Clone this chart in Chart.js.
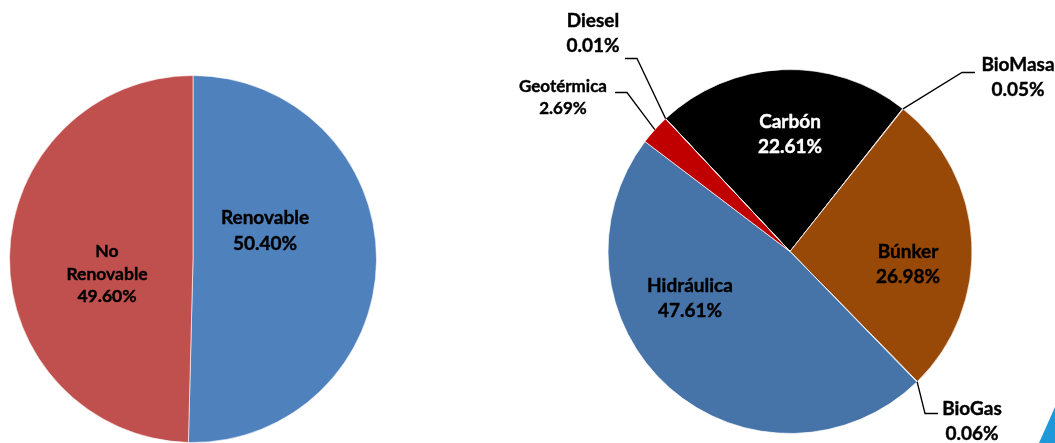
<!DOCTYPE html>
<html>
<head>
<meta charset="utf-8">
<script src="https://cdn.jsdelivr.net/npm/chart.js@4"></script>
<style>
  html, body { margin:0; padding:0; background:#fff; }
  body { width:1055px; height:443px; position:relative; overflow:hidden; }
  #c1 { position:absolute; left:0; top:0; }
  #c2 { position:absolute; left:500px; top:0; }
</style>
</head>
<body>
<canvas id="c1" width="400" height="443"></canvas>
<canvas id="c2" width="555" height="443"></canvas>
<script>
// ---- Data ----
const leftLabels = ["Renovable", "No Renovable"];
const leftValues = [50.40, 49.60];
const leftColors = ["#4F81BD", "#C0504D"];

const rightLabels = ["Carbón", "BioMasa", "Búnker", "BioGas", "Hidráulica", "Geotérmica", "Diesel"];
const rightValues = [22.61, 0.05, 26.98, 0.06, 47.61, 2.69, 0.01];
const rightColors = ["#000000", "#7F6A8A", "#984807", "#6E8DB0", "#4674A8", "#C00000", "#8A3A3A"];

const FONT = "Lato, 'Open Sans', sans-serif";

// label layout (styles/positions of texts, relative to pie centre)
const leftLabelLayout = [
  { lines: ["Renovable", "50.40%"], dx: 72, dy: -28, size: 19, color: "#000" },
  { lines: ["No", "Renovable", "49.60%"], dx: -86, dy: 15, size: 17.5, color: "#000", lh: 1.27 }
];
const rightLabelLayout = {
  "Carbón":     { lines: ["Carbón", "22.61%"], dx: 0, dy: -117, size: 19, color: "#fff" },
  "Búnker":     { lines: ["Búnker", "26.98%"], dx: 118, dy: 13, size: 19, color: "#000" },
  "Hidráulica": { lines: ["Hidráulica", "47.61%"], dx: -100, dy: 47, size: 19, color: "#000" },
  "Geotérmica": { lines: ["Geotérmica", "2.69%"], dx: -227, dy: -154, size: 17, color: "#000", lh: 1.25, ext: true, elbow: [-163, -159], elbowEnd: [-175, -159] },
  "Diesel":     { lines: ["Diesel", "0.01%"], dx: -197, dy: -218, size: 19, color: "#000", ext: true, elbow: [-153, -193], elbowEnd: [-165, -193] },
  "BioMasa":    { lines: ["BioMasa", "0.05%"], dx: 228, dy: -174, size: 19, color: "#000", ext: true, elbow: [172, -179], elbowEnd: [185, -179] },
  "BioGas":     { lines: ["BioGas", "0.06%"], dx: 182, dy: 170, size: 19, color: "#000", ext: true, elbow: [135, 162], elbowEnd: [148, 162] }
};

function drawBlock(ctx, x, y, lines, size, color, lhf) {
  ctx.save();
  ctx.font = "bold " + size + "px " + FONT;
  ctx.fillStyle = color;
  ctx.strokeStyle = color;
  ctx.lineWidth = 0.4;
  ctx.textAlign = "center";
  ctx.textBaseline = "middle";
  const lh = size * (lhf || 1.33);
  const top = y - (lines.length - 1) * lh / 2;
  lines.forEach((t, i) => { ctx.fillText(t, x, top + i * lh); ctx.strokeText(t, x, top + i * lh); });
  ctx.restore();
}

const leftLabelPlugin = {
  id: "leftLabels",
  afterDatasetsDraw(chart) {
    const ctx = chart.ctx;
    const arc = chart.getDatasetMeta(0).data[0];
    leftLabelLayout.forEach(l => drawBlock(ctx, arc.x + l.dx, arc.y + l.dy, l.lines, l.size, l.color, l.lh));
  }
};

const rightLabelPlugin = {
  id: "rightLabels",
  afterDatasetsDraw(chart) {
    const ctx = chart.ctx;
    const meta = chart.getDatasetMeta(0);
    meta.data.forEach((arc, i) => {
      const l = rightLabelLayout[rightLabels[i]];
      if (!l) return;
      if (l.ext) {
        const mid = (arc.startAngle + arc.endAngle) / 2;
        const r = arc.outerRadius;
        const sx = arc.x + Math.cos(mid) * r;
        const sy = arc.y + Math.sin(mid) * r;
        ctx.save();
        ctx.strokeStyle = "#000";
        ctx.lineWidth = 1.3;
        ctx.beginPath();
        ctx.moveTo(sx, sy);
        ctx.lineTo(arc.x + l.elbow[0], arc.y + l.elbow[1]);
        ctx.lineTo(arc.x + l.elbowEnd[0], arc.y + l.elbowEnd[1]);
        ctx.stroke();
        ctx.restore();
      }
      drawBlock(ctx, arc.x + l.dx, arc.y + l.dy, l.lines, l.size, l.color, l.lh);
    });
    // decorative corner triangle
    ctx.save();
    ctx.fillStyle = "#1E98D8";
    ctx.beginPath();
    ctx.moveTo(539, 443);
    ctx.lineTo(555, 407);
    ctx.lineTo(555, 443);
    ctx.closePath();
    ctx.fill();
    ctx.restore();
  }
};

new Chart(document.getElementById("c1"), {
  type: "pie",
  data: { labels: leftLabels, datasets: [{ data: leftValues, backgroundColor: leftColors, borderColor: "rgba(255,255,255,0.6)", borderWidth: 1 }] },
  options: {
    responsive: false, animation: false, rotation: 0,
    layout: { padding: { left: 8, right: 22, top: 75, bottom: 0 } },
    plugins: { legend: { display: false }, tooltip: { enabled: false } }
  },
  plugins: [leftLabelPlugin]
});

new Chart(document.getElementById("c2"), {
  type: "pie",
  data: { labels: rightLabels, datasets: [{ data: rightValues, backgroundColor: rightColors, borderColor: "rgba(255,255,255,0.7)", borderWidth: 1 }] },
  options: {
    responsive: false, animation: false, rotation: -43.1,
    layout: { padding: { left: 107, right: 82, top: 69, bottom: 9 } },
    plugins: { legend: { display: false }, tooltip: { enabled: false } }
  },
  plugins: [rightLabelPlugin]
});
</script>
</body>
</html>
